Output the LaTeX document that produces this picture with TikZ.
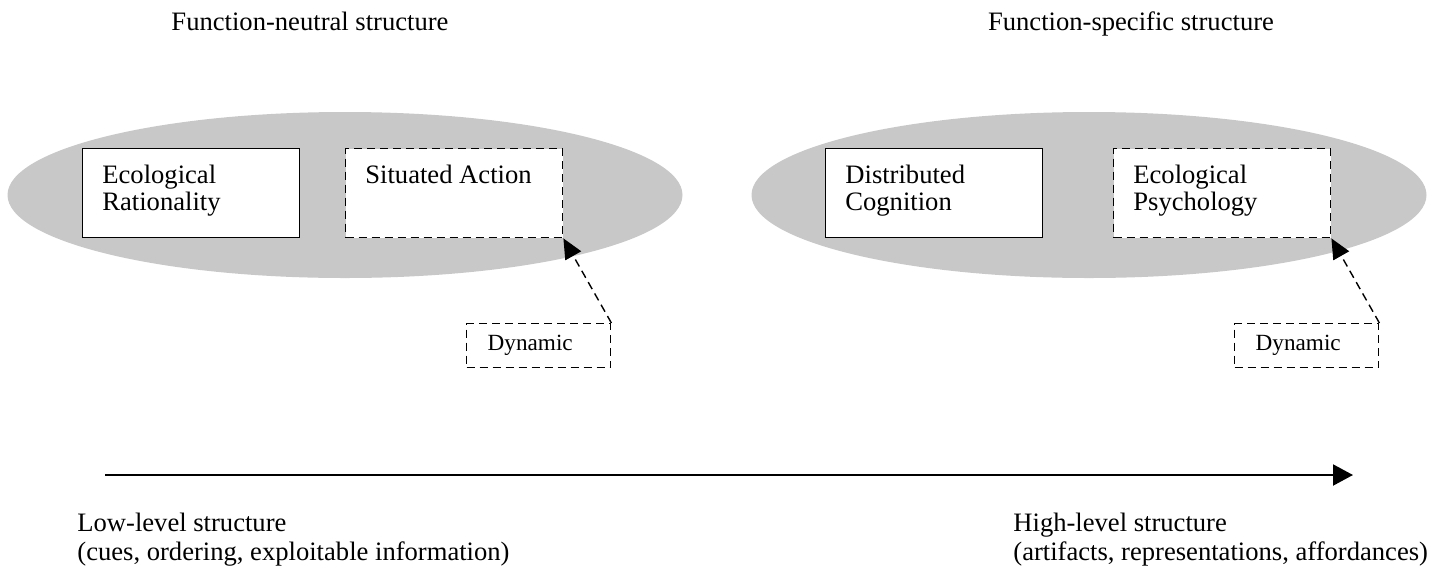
\documentclass[tikz,border=0pt]{standalone}
\usepackage{fontspec}
\setmainfont{Liberation Serif}
\usepackage{xcolor}
\usepackage{tikz}
\usetikzlibrary{shapes.geometric}
\usetikzlibrary{arrows.meta}

\definecolor{blobgray}{RGB}{200,200,200}

\tikzset{
  blob/.style={ellipse, fill=blobgray, minimum width=337.5pt, minimum height=83pt, inner sep=0pt},
  theory/.style={rectangle, draw, fill=white, line width=0.7pt, minimum width=108.5pt, minimum height=44.5pt, inner sep=0pt, anchor=north west},
  loose/.style={theory, dash pattern=on 4pt off 2.5pt},
  boxtext/.style={anchor=north west, align=left, inner sep=0pt, xshift=10pt, yshift=-8.2pt, font=\fontsize{13.3}{13.8}\selectfont},
  dynbox/.style={rectangle, draw, line width=0.7pt, dash pattern=on 4pt off 2.5pt, minimum width=72pt, minimum height=22pt, text width=51pt, inner xsep=10.5pt, inner ysep=0pt, align=left, anchor=north west, font=\fontsize{11.6}{13}\selectfont},
  link/.style={line width=0.7pt, dash pattern=on 4pt off 2.5pt, -{Triangle[length=10pt,width=9pt]}},
  axis/.style={line width=1pt, -{Triangle[length=10pt,width=10.5pt]}},
  heading/.style={anchor=base, inner sep=0pt, font=\fontsize{13.3}{13.8}\selectfont},
  note/.style={anchor=north west, align=left, inner sep=0pt, font=\fontsize{13.3}{14.5}\selectfont}
}

\begin{document}
\begin{tikzpicture}[x=0.5pt, y=-0.5pt]
  \useasboundingbox (0,0) rectangle (1448,569);

  \node[heading] (neutral) at (310,30) {Function-neutral structure};
  \node[heading] (specific) at (1131,30) {Function-specific structure};

  \node[blob] (lowblob) at (345,195) {};
  \node[blob] (highblob) at (1089,195) {};

  \node[theory] (ecorat) at (82,148) {};
  \node[boxtext] (ecorattext) at (ecorat.north west) {Ecological\\Rationality};
  \node[loose] (situated) at (345,148) {};
  \node[boxtext] (situatedtext) at (situated.north west) {Situated Action};

  \node[theory] (distcog) at (825,148) {};
  \node[boxtext] (distcogtext) at (distcog.north west) {Distributed\\Cognition};
  \node[loose] (ecopsy) at (1113,148) {};
  \node[boxtext] (ecopsytext) at (ecopsy.north west) {Ecological\\Psychology};

  \node[dynbox] (lowdyn) at (466,323) {Dynamic};
  \node[dynbox] (highdyn) at (1234,323) {Dynamic};

  \draw[link] (lowdyn.north east) -- (situated.south east);
  \draw[link] (highdyn.north east) -- (ecopsy.south east);

  \coordinate (axstart) at (105,475);
  \coordinate (axend) at (1353,475);
  \draw[axis] (axstart) -- (axend);

  \node[note] (lowlevel) at (77,513) {Low-level structure\\(cues, ordering, exploitable information)};
  \node[note] (highlevel) at (1013,513) {High-level structure\\(artifacts, representations, affordances)};
\end{tikzpicture}
\end{document}
